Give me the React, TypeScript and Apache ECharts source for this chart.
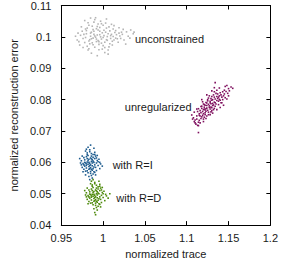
import React, { useEffect, useRef } from "react";
import * as echarts from "echarts";

const xTicks = [0.95, 1.2, 0.05];
const yTicks = [0.04, 0.11, 0.01];

const seriesNames = ["unconstrained", "unregularized", "with R=I", "with R=D"];
const seriesColors = ["#b4b4b4", "#7f0f5e", "#1c5b8e", "#4e8a0c"];

const unconstrained = [
  [0.997,0.1000],[0.985,0.1012],[1.004,0.0991],[0.992,0.0985],[1.010,0.1008],[0.979,0.0998],[1.001,0.1021],[0.988,0.0975],[1.015,0.0996],[0.996,0.1030],
  [0.973,0.1005],[1.022,0.1015],[0.983,0.0962],[1.007,0.0968],[0.994,0.1041],[1.030,0.1002],[0.969,0.0990],[1.002,0.0950],[0.990,0.1055],[1.012,0.1025],
  [0.981,0.1028],[0.998,0.0980],[1.006,0.1010],[0.986,0.0994],[1.018,0.0983],[0.975,0.1018],[0.993,0.1006],[1.000,0.0972],[0.989,0.1018],[1.009,0.0995],
  [0.984,0.0978],[1.013,0.1036],[0.978,0.0982],[1.025,0.0990],[0.995,0.0959],[1.003,0.1044],[0.991,0.0999],[0.987,0.1034],[1.016,0.1007],[0.972,0.0974],
  [1.036,0.1010],[1.033,0.1022],[0.999,0.1013],[0.982,0.1045],[1.008,0.0978],[0.994,0.0988],[1.020,0.1003],[0.980,0.1010],[1.004,0.1028],[0.990,0.0967],
  [0.976,0.0995],[1.011,0.0986],[0.997,0.1050],[0.985,0.1002],[1.019,0.1029],[0.993,0.0940],[1.001,0.1004],[0.988,0.1023],[1.006,0.0958],[0.974,0.1032],
  [1.027,0.0977],[0.996,0.1018],[0.983,0.0987],[1.014,0.1014],[0.991,0.1061],[1.002,0.0983],[0.978,0.1052],[1.010,0.1040],[0.986,0.0948],[0.998,0.0993],
  [1.023,0.1008],[0.970,0.1012],[0.992,0.1026],[1.005,0.1001],[0.981,0.0970],[1.017,0.0994],[0.995,0.0976],[1.000,0.1037],[0.989,0.1008],[1.008,0.1019],
  [0.990,0.1003],[1.003,0.1015],[0.984,0.0991],[1.012,0.1001],[0.977,0.1008],[0.999,0.0961],[0.993,0.1033],[1.021,0.0995],[0.987,0.0981],[1.005,0.0989],
  [0.980,0.1020],[1.015,0.1020],[0.996,0.1007],[0.971,0.0985],[1.028,0.1016],[0.989,0.1047],[1.007,0.1032],[0.982,0.0958],[1.000,0.0998],[0.994,0.1022],
  [1.011,0.0974],[0.986,0.1015],[1.024,0.1024],[0.976,0.0966],[0.998,0.1042],[1.009,0.1004],[0.983,0.1037],[1.002,0.0966],[0.992,0.0993],[1.032,0.0996],
  [0.967,0.1002],[1.013,0.0990],[0.988,0.0996],[1.004,0.1057],[0.979,0.1025],[1.019,0.1012],[0.995,0.0985],[1.006,0.0945],[0.985,0.1060],[1.037,0.1015],
];

const unregularized = [
  [1.127,0.0780],[1.120,0.0768],[1.133,0.0792],[1.115,0.0755],[1.139,0.0801],[1.124,0.0781],[1.130,0.0774],[1.118,0.0772],[1.136,0.0810],[1.122,0.0758],
  [1.142,0.0808],[1.112,0.0748],[1.128,0.0795],[1.125,0.0766],[1.131,0.0788],[1.117,0.0740],[1.145,0.0818],[1.121,0.0784],[1.134,0.0779],[1.113,0.0762],
  [1.129,0.0803],[1.123,0.0771],[1.138,0.0795],[1.119,0.0750],[1.132,0.0815],[1.110,0.0735],[1.147,0.0826],[1.126,0.0760],[1.135,0.0786],[1.116,0.0765],
  [1.140,0.0822],[1.121,0.0744],[1.130,0.0798],[1.124,0.0789],[1.143,0.0800],[1.114,0.0728],[1.128,0.0770],[1.137,0.0818],[1.118,0.0779],[1.132,0.0768],
  [1.150,0.0835],[1.108,0.0742],[1.126,0.0805],[1.122,0.0752],[1.144,0.0812],[1.120,0.0738],[1.134,0.0802],[1.127,0.0775],[1.117,0.0758],[1.141,0.0790],
  [1.111,0.0722],[1.129,0.0787],[1.136,0.0830],[1.123,0.0763],[1.153,0.0840],[1.119,0.0793],[1.131,0.0757],[1.146,0.0806],[1.125,0.0796],[1.115,0.0734],
  [1.138,0.0784],[1.133,0.0825],[1.113,0.0718],[1.148,0.0845],[1.124,0.0748],[1.130,0.0810],[1.121,0.0776],[1.139,0.0812],[1.114,0.0771],[1.155,0.0836],
  [1.109,0.0730],[1.114,0.0695],
  [1.126,0.0785],[1.131,0.0781],[1.122,0.0767],[1.136,0.0797],[1.119,0.0762],[1.129,0.0776],[1.133,0.0808],[1.116,0.0748],[1.141,0.0815],[1.124,0.0773],
  [1.128,0.0790],[1.120,0.0755],[1.137,0.0804],[1.112,0.0738],[1.134,0.0790],[1.125,0.0800],[1.118,0.0745],[1.143,0.0825],[1.130,0.0765],[1.123,0.0791],
  [1.127,0.0812],[1.132,0.0783],[1.115,0.0750],[1.140,0.0798],[1.121,0.0770],[1.135,0.0820],[1.117,0.0778],[1.129,0.0761],[1.145,0.0830],[1.110,0.0726],
  [1.126,0.0752],[1.138,0.0808],[1.122,0.0782],[1.149,0.0820],[1.107,0.0738],[1.133,0.0772],[1.120,0.0786],[1.151,0.0828],[1.116,0.0726],[1.131,0.0800],
  [1.112,0.0770],[1.118,0.0800],[1.124,0.0815],[1.130,0.0828],[1.134,0.0854],[1.142,0.0790],[1.148,0.0802],[1.136,0.0768],[1.128,0.0752],[1.120,0.0730],
  [1.140,0.0775],[1.106,0.0751],[1.133,0.0838],[1.146,0.0842],[1.150,0.0812],[1.114,0.0717],[1.109,0.0760],[1.139,0.0837],[1.123,0.0740],[1.144,0.0782],
];

const withRI = [
  [0.985,0.0592],[0.981,0.0601],[0.989,0.0585],[0.978,0.0588],[0.992,0.0598],[0.983,0.0610],[0.987,0.0575],[0.976,0.0596],[0.990,0.0612],[0.984,0.0580],
  [0.980,0.0618],[0.994,0.0590],[0.986,0.0603],[0.979,0.0572],[0.988,0.0625],[0.982,0.0594],[0.996,0.0580],[0.974,0.0605],[0.985,0.0565],[0.991,0.0620],
  [0.977,0.0615],[0.987,0.0598],[0.983,0.0587],[0.993,0.0606],[0.981,0.0630],[0.986,0.0558],[0.975,0.0584],[0.989,0.0570],[0.984,0.0640],[0.997,0.0595],
  [0.980,0.0582],[0.990,0.0592],[0.982,0.0622],[0.986,0.0578],[0.978,0.0608],[0.992,0.0574],[0.985,0.0614],[0.973,0.0598],[0.988,0.0563],[0.983,0.0600],
  [0.979,0.0636],[0.995,0.0610],[0.987,0.0550],[0.981,0.0573],[0.990,0.0632],[0.976,0.0570],[0.984,0.0590],[0.999,0.0588],[0.982,0.0648],[0.986,0.0620],
  [0.972,0.0612],[0.991,0.0560],[0.980,0.0595],[0.988,0.0604],[0.984,0.0545],[0.993,0.0622],[0.977,0.0592],[0.985,0.0655],[0.989,0.0645],[0.979,0.0560],
  [0.984,0.0597],[0.987,0.0589],[0.982,0.0606],[0.989,0.0600],[0.980,0.0590],[0.986,0.0611],[0.983,0.0578],[0.991,0.0584],[0.978,0.0600],[0.988,0.0616],
  [0.985,0.0583],[0.981,0.0624],[0.994,0.0602],[0.977,0.0578],[0.986,0.0628],[0.990,0.0568],[0.982,0.0567],[0.975,0.0620],[0.992,0.0614],[0.984,0.0634],
  [0.979,0.0598],[0.987,0.0608],[0.983,0.0555],[0.996,0.0600],[0.980,0.0642],[0.988,0.0580],[0.974,0.0592],[0.990,0.0625],[0.985,0.0571],[0.981,0.0612],
];

const withRD = [
  [0.991,0.0490],[0.987,0.0498],[0.995,0.0484],[0.984,0.0486],[0.998,0.0495],[0.989,0.0507],[0.993,0.0473],[0.982,0.0494],[0.996,0.0510],[0.990,0.0478],
  [0.986,0.0515],[1.000,0.0488],[0.992,0.0500],[0.985,0.0470],[0.994,0.0522],[0.988,0.0492],[1.002,0.0478],[0.980,0.0503],[0.991,0.0463],[0.997,0.0518],
  [0.983,0.0512],[0.993,0.0496],[0.989,0.0485],[0.999,0.0504],[0.987,0.0528],[0.992,0.0456],[0.981,0.0482],[0.995,0.0468],[0.990,0.0536],[1.004,0.0493],
  [0.986,0.0480],[0.996,0.0490],[0.988,0.0520],[0.992,0.0476],[0.984,0.0506],[0.998,0.0472],[0.991,0.0512],[0.979,0.0496],[0.994,0.0460],[0.989,0.0498],
  [0.985,0.0532],[1.001,0.0508],[0.993,0.0448],[0.987,0.0471],[0.996,0.0530],[0.982,0.0468],[0.990,0.0488],[1.006,0.0486],[0.988,0.0545],[0.992,0.0518],
  [0.978,0.0510],[0.997,0.0458],[0.986,0.0493],[0.994,0.0502],[0.990,0.0440],[0.999,0.0520],[0.983,0.0490],[0.991,0.0433],[0.995,0.0540],[1.008,0.0500],
  [0.990,0.0495],[0.993,0.0487],[0.988,0.0504],[0.995,0.0500],[0.986,0.0489],[0.992,0.0509],[0.989,0.0476],[0.997,0.0482],[0.984,0.0499],[0.994,0.0515],
  [0.991,0.0481],[0.987,0.0524],[1.000,0.0500],[0.983,0.0475],[0.992,0.0527],[0.996,0.0466],[0.988,0.0465],[0.981,0.0518],[0.998,0.0512],[0.990,0.0532],
  [0.985,0.0497],[0.993,0.0506],[0.989,0.0452],[1.003,0.0498],[0.986,0.0540],[0.994,0.0479],[0.980,0.0490],[0.996,0.0524],[0.991,0.0470],[0.987,0.0510],
];

const seriesData = [unconstrained, unregularized, withRI, withRD];
// annotation anchors (data coordinates, left-middle of each text)
const labelAnchors = [
  [1.038, 0.0994],
  [1.026, 0.0776],
  [1.0114, 0.0593],
  [1.0158, 0.0487],
];

const font = "Liberation Sans, Arial, sans-serif";

export default function App() {
  const ref = useRef<HTMLDivElement>(null);
  useEffect(() => {
    const chart = echarts.init(ref.current!, null, { renderer: "svg" });
    const axisCommon = {
      type: "value",
      axisLine: { show: true, onZero: false, lineStyle: { color: "#000", width: 1 } },
      axisTick: { show: true, inside: true, length: 4, lineStyle: { color: "#000" } },
      splitLine: { show: false },
    };
    const series: any[] = seriesData.map((d, i) => ({
      type: "scatter",
      name: seriesNames[i],
      data: d,
      symbol: "rect",
      symbolSize: 1.6,
      itemStyle: { color: seriesColors[i], opacity: 1 },
      silent: true,
    }));
    chart.setOption({
      animation: false,
      grid: { left: 48, right: 9, top: 5, bottom: 34, show: false },
      xAxis: [
        {
          ...axisCommon,
          position: "bottom",
          min: xTicks[0],
          max: xTicks[1],
          interval: xTicks[2],
          name: "normalized trace",
          nameLocation: "middle",
          nameGap: 22,
          nameTextStyle: { color: "#1a1a1a", fontSize: 11, fontFamily: font },
          axisLabel: { color: "#1a1a1a", fontSize: 11, fontFamily: font, margin: 7 },
        },
        {
          ...axisCommon,
          position: "top",
          min: xTicks[0],
          max: xTicks[1],
          interval: xTicks[2],
          axisLabel: { show: false },
        },
      ],
      yAxis: [
        {
          ...axisCommon,
          position: "left",
          min: yTicks[0],
          max: yTicks[1],
          interval: yTicks[2],
          name: "normalized reconstruction error",
          nameLocation: "middle",
          nameGap: 36,
          nameTextStyle: { color: "#1a1a1a", fontSize: 11, fontFamily: font },
          axisLabel: { color: "#1a1a1a", fontSize: 11, fontFamily: font, margin: 10 },
        },
        {
          ...axisCommon,
          position: "right",
          min: yTicks[0],
          max: yTicks[1],
          interval: yTicks[2],
          axisLabel: { show: false },
        },
      ],
      series,
    });
    const elements = labelAnchors.map((p, i) => {
      const [px, py] = chart.convertToPixel({ gridIndex: 0 }, p) as number[];
      return {
        type: "text",
        x: px,
        y: py,
        silent: true,
        style: {
          text: seriesNames[i],
          fill: "#1a1a1a",
          fontSize: 11,
          fontFamily: font,
          align: "left",
          verticalAlign: "middle",
        },
      };
    });
    chart.setOption({ graphic: { elements } });
    return () => chart.dispose();
  }, []);
  return <div ref={ref} style={{ width: 281, height: 264, position: "absolute", left: 0, top: 0 }} />;
}
